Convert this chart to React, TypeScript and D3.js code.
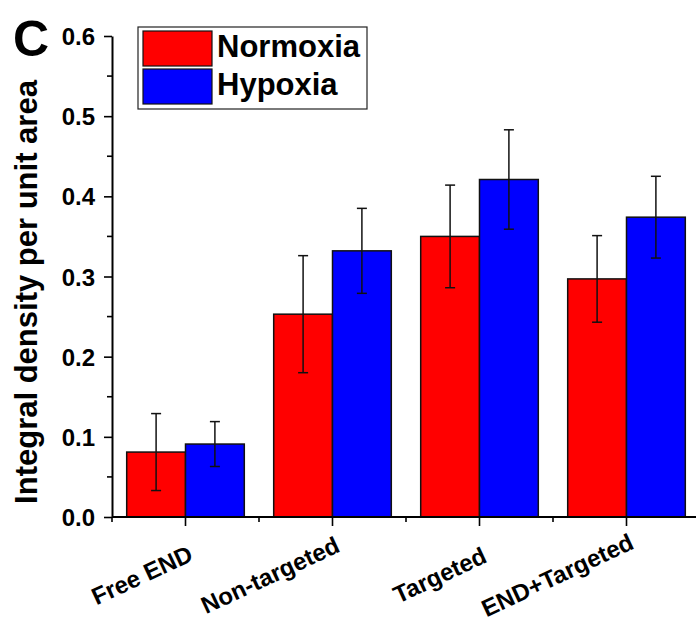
import React, { useEffect, useMemo, useRef } from "react";
import * as d3 from "d3";

const WIDTH = 696;
const HEIGHT = 625;
const MARGIN = { top: 36, right: -4, bottom: 108, left: 112 };
const FONT = "'Liberation Sans', Arial, Helvetica, sans-serif";

const categories = ["Free END", "Non-targeted", "Targeted", "END+Targeted"];
const seriesNames = ["Normoxia", "Hypoxia"];
const seriesColors = ["#ff0000", "#0000ff"];
const normoxia = [0.081, 0.253, 0.35, 0.297];
const normoxiaErr = [0.048, 0.073, 0.064, 0.054];
const hypoxia = [0.091, 0.332, 0.421, 0.374];
const hypoxiaErr = [0.028, 0.053, 0.062, 0.051];
const yTicks = [0, 0.1, 0.2, 0.3, 0.4, 0.5, 0.6];
const yMinorTicks = [0.05, 0.15, 0.25, 0.35, 0.45, 0.55];

const App = () => {
    const axesRef = useRef<SVGGElement | null>(null);
    const boundsWidth = WIDTH - MARGIN.left - MARGIN.right;
    const boundsHeight = HEIGHT - MARGIN.top - MARGIN.bottom;

    const yScale = useMemo(
        () => d3.scaleLinear().domain([0, 0.6]).range([boundsHeight, 0]),
        [boundsHeight]
    );

    const xScale = useMemo(
        () =>
            d3.scaleBand<string>()
                .domain(categories)
                .range([0, boundsWidth])
                .paddingInner(0.2)
                .paddingOuter(0.1),
        [boundsWidth]
    );

    const subScale = useMemo(
        () => d3.scaleBand<string>().domain(seriesNames).range([0, xScale.bandwidth()]),
        [xScale]
    );

    const rows = useMemo(
        () =>
            categories.flatMap((cat, i) => [
                { cat, series: seriesNames[0], color: seriesColors[0], value: normoxia[i], err: normoxiaErr[i] },
                { cat, series: seriesNames[1], color: seriesColors[1], value: hypoxia[i], err: hypoxiaErr[i] },
            ]),
        []
    );

    // axes drawn with d3
    useEffect(() => {
        const g = d3.select(axesRef.current);
        g.selectAll("*").remove();

        // y axis
        const yAxis = g.append("g").call(
            d3.axisLeft(yScale).tickValues(yTicks).tickFormat(d3.format(".1f")).tickSize(8).tickSizeOuter(0)
        );
        yAxis.attr("font-size", null).attr("font-family", null);
        yAxis.select(".domain").attr("stroke-width", 2);
        yAxis.selectAll(".tick line").attr("stroke-width", 1.6);
        yAxis.selectAll(".tick text")
            .attr("x", -17)
            .attr("dy", "0.36em")
            .style("font-family", FONT)
            .style("font-weight", "bold")
            .style("font-size", "24px")
            .attr("fill", "#000");
        g.append("g")
            .selectAll("line")
            .data(yMinorTicks)
            .join("line")
            .attr("x1", -5)
            .attr("x2", 0)
            .attr("y1", (d) => yScale(d))
            .attr("y2", (d) => yScale(d))
            .attr("stroke", "#000")
            .attr("stroke-width", 1.6);

        // x axis
        const xg = g.append("g").attr("transform", `translate(0,${boundsHeight})`);
        xg.append("line")
            .attr("x1", 0)
            .attr("x2", boundsWidth + 10)
            .attr("stroke", "#000")
            .attr("stroke-width", 2);
        xg.selectAll(".major")
            .data(categories)
            .join("line")
            .attr("class", "major")
            .attr("x1", (d) => (xScale(d) ?? 0) + xScale.bandwidth() / 2)
            .attr("x2", (d) => (xScale(d) ?? 0) + xScale.bandwidth() / 2)
            .attr("y1", 0)
            .attr("y2", 9)
            .attr("stroke", "#000")
            .attr("stroke-width", 1.6);
        const step = xScale.step();
        xg.selectAll(".minor")
            .data(categories)
            .join("line")
            .attr("class", "minor")
            .attr("x1", (d) => (xScale(d) ?? 0) - step * 0.1)
            .attr("x2", (d) => (xScale(d) ?? 0) - step * 0.1)
            .attr("y1", 0)
            .attr("y2", 5)
            .attr("stroke", "#000")
            .attr("stroke-width", 1.6);

        // rotated labels: right edge near the tick, vertically centred on one line
        const labels = xg.selectAll(".xlabel")
            .data(categories)
            .join("g")
            .attr("class", "xlabel");
        labels.append("text")
            .attr("transform", "rotate(-25)")
            .attr("text-anchor", "end")
            .style("font-family", FONT)
            .style("font-weight", "bold")
            .style("font-size", "24px")
            .attr("fill", "#000")
            .text((d) => d);
        labels.each(function (d) {
            const node = this as SVGGElement;
            const bb = node.getBBox();
            const tx = (xScale(d) ?? 0) + xScale.bandwidth() / 2 + 11;
            const dx = tx - (bb.x + bb.width);
            const dy = 58 - (bb.y + bb.height / 2);
            d3.select(node).attr("transform", `translate(${dx},${dy})`);
        });
    }, [xScale, yScale, boundsHeight, boundsWidth]);

    return (
        <div>
            <svg
                width={WIDTH}
                height={HEIGHT}
                style={{ position: "absolute", left: 0, top: 0, background: "#fff" }}
            >
                <text x={13} y={56} fontFamily={FONT} fontWeight="bold" fontSize={50} fill="#000">
                    C
                </text>
                <text
                    transform="translate(37,292) rotate(-90)"
                    textAnchor="middle"
                    fontFamily={FONT}
                    fontWeight="bold"
                    fontSize={31}
                    fill="#000"
                >
                    Integral density per unit area
                </text>
                <g transform={`translate(${MARGIN.left},${MARGIN.top})`}>
                    {rows.map((r, i) => {
                        const x = (xScale(r.cat) ?? 0) + (subScale(r.series) ?? 0);
                        const w = subScale.bandwidth();
                        const cx = x + w / 2;
                        return (
                            <g key={i}>
                                <rect
                                    x={x}
                                    y={yScale(r.value)}
                                    width={w}
                                    height={boundsHeight - yScale(r.value)}
                                    fill={r.color}
                                    stroke="#111"
                                    strokeWidth={1.5}
                                />
                                <line x1={cx} x2={cx} y1={yScale(r.value + r.err)} y2={yScale(r.value - r.err)} stroke="#111" strokeWidth={1.5} />
                                <line x1={cx - 5} x2={cx + 5} y1={yScale(r.value + r.err)} y2={yScale(r.value + r.err)} stroke="#111" strokeWidth={1.5} />
                                <line x1={cx - 5} x2={cx + 5} y1={yScale(r.value - r.err)} y2={yScale(r.value - r.err)} stroke="#111" strokeWidth={1.5} />
                            </g>
                        );
                    })}
                </g>
                <g ref={axesRef} transform={`translate(${MARGIN.left},${MARGIN.top})`} />
                {/* legend */}
                <g transform="translate(138,27)">
                    <rect x={0} y={0} width={229} height={82} fill="#fff" stroke="#222" strokeWidth={1.2} />
                    {seriesNames.map((name, i) => (
                        <g key={name} transform={`translate(0,${i * 38})`}>
                            <rect x={5} y={4} width={69} height={35} fill={seriesColors[i]} stroke="#111" strokeWidth={1.2} />
                            <text x={79} y={30} fontFamily={FONT} fontWeight="bold" fontSize={31} fill="#000">
                                {name}
                            </text>
                        </g>
                    ))}
                </g>
            </svg>
        </div>
    );
};

export default App;
